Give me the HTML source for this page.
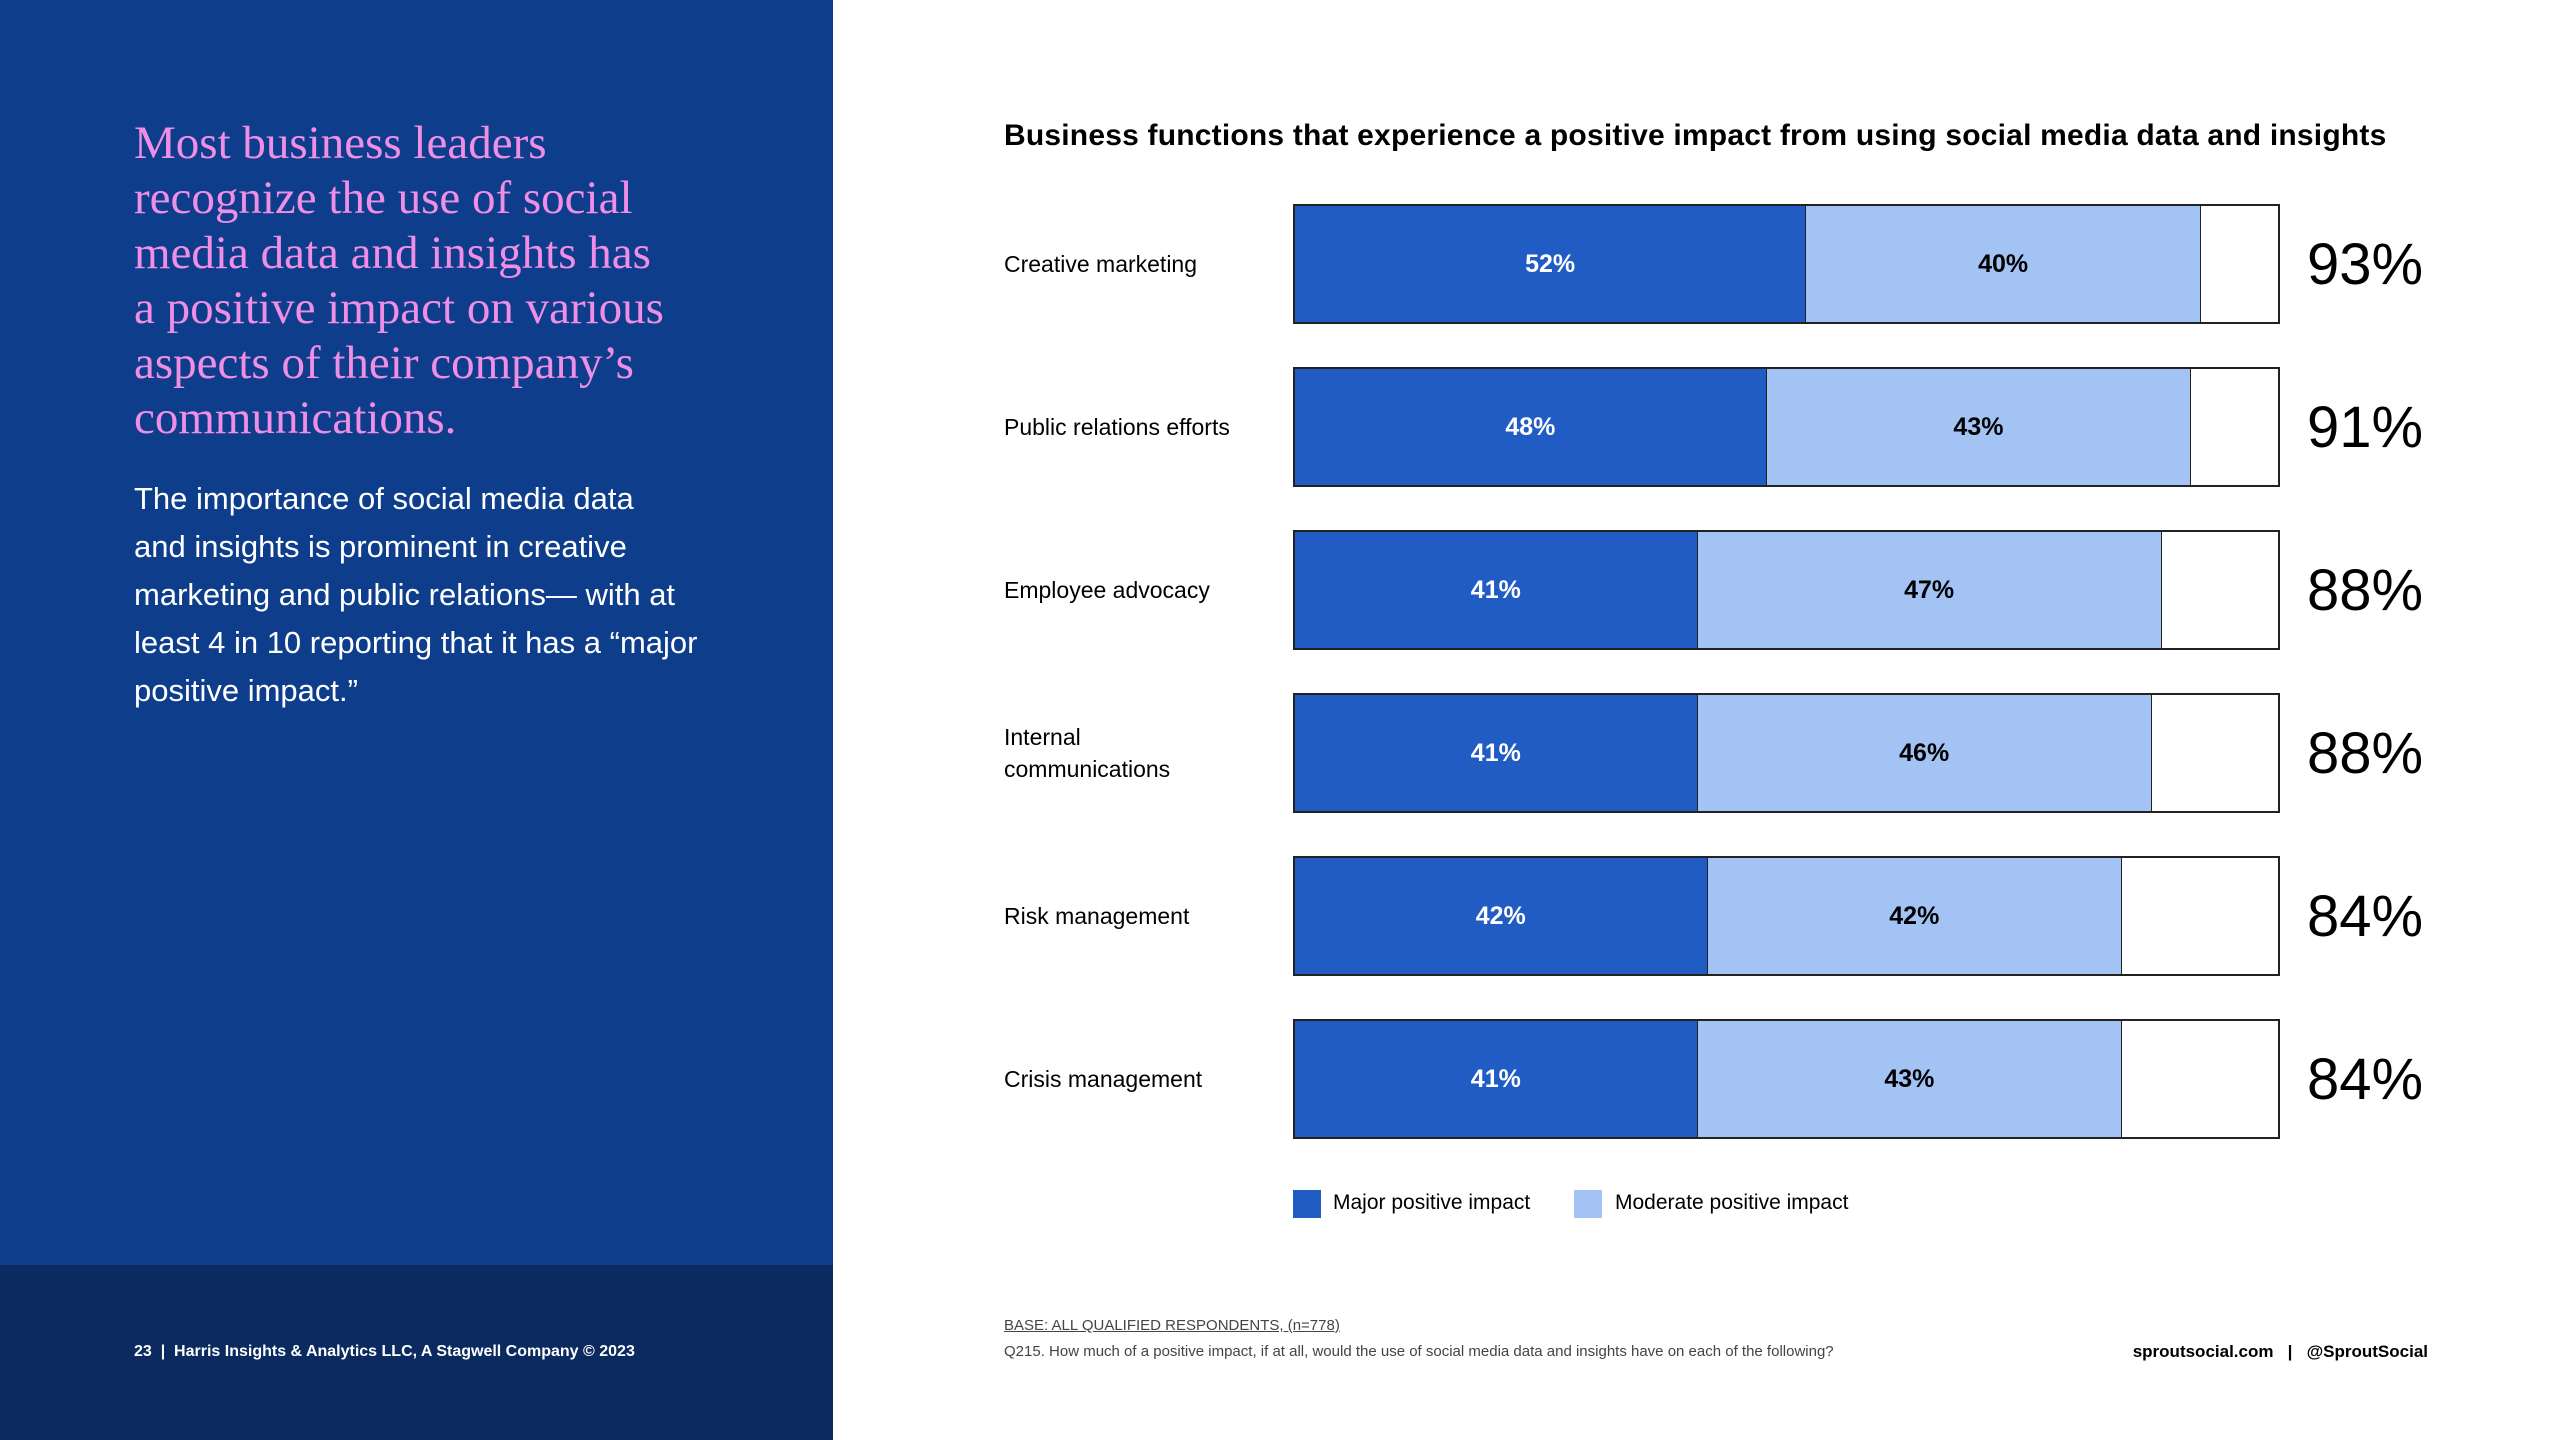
<!DOCTYPE html>
<html><head><meta charset="utf-8"><style>
body{margin:0;width:2560px;height:1440px;position:relative;overflow:hidden;background:#fff;font-family:"Liberation Sans",sans-serif}
.abs{position:absolute}
</style></head><body>
<div class="abs" style="left:0;top:0;width:833px;height:1265px;background:#0e3e8b"></div>
<div class="abs" style="left:0;top:1265px;width:833px;height:175px;background:#0b2a5f"></div>
<div class="abs" style="left:134px;top:116px;width:640px;white-space:nowrap;font-family:'Liberation Serif',serif;font-size:47px;line-height:55px;color:#f08ee6">Most business leaders<br>recognize the use of social<br>media data and insights has<br>a positive impact on various<br>aspects of their company’s<br>communications.</div>
<div class="abs" style="left:134px;top:475px;width:640px;white-space:nowrap;font-size:31px;line-height:48px;color:#fff">The importance of social media data<br>and insights is prominent in creative<br>marketing and public relations— with at<br>least 4 in 10 reporting that it has a “major<br>positive impact.”</div>
<div class="abs" style="left:134px;top:1343px;font-size:16px;font-weight:bold;color:#fff">23 &nbsp;|&nbsp; Harris Insights &amp; Analytics LLC, A Stagwell Company © 2023</div>
<div class="abs" style="left:1004px;top:119px;font-size:30px;font-weight:bold;color:#000;letter-spacing:0.2px">Business functions that experience a positive impact from using social media data and insights</div>
<div id="chart"></div>
<div class="abs" style="left:1293px;top:1190px;width:28px;height:28px;background:#215bc4"></div>
<div class="abs" style="left:1333px;top:1191px;font-size:21px;color:#000">Major positive impact</div>
<div class="abs" style="left:1574px;top:1190px;width:28px;height:28px;background:#a3c3f5"></div>
<div class="abs" style="left:1615px;top:1191px;font-size:21px;color:#000">Moderate positive impact</div>
<div class="abs" style="left:1004px;top:1317px;font-size:15px;color:#444;text-decoration:underline">BASE: ALL QUALIFIED RESPONDENTS, (n=778)</div>
<div class="abs" style="left:1004px;top:1343px;font-size:15px;color:#444">Q215. How much of a positive impact, if at all, would the use of social media data and insights have on each of the following?</div>
<div class="abs" style="right:132px;top:1342px;font-size:17px;font-weight:bold;color:#000">sproutsocial.com &nbsp;&nbsp;|&nbsp;&nbsp; @SproutSocial</div>
<script>
const categories=["Creative marketing","Public relations efforts","Employee advocacy","Internal communications","Risk management","Crisis management"];
const majorValues=[52,48,41,41,42,41];
const moderateValues=[40,43,47,46,42,43];
const totalValues=[93,91,88,88,84,84];
const x0=1293,w100=987,y0=204,pitch=163,bh=120;
const xs=v=>v/100*w100;
const ys=i=>y0+i*pitch;
const c=document.getElementById('chart');
function mk(name,style,txt){const d=document.createElement('div');d.className='abs';d.style.cssText=style;if(txt!==undefined)d.textContent=txt;


c.appendChild(d);return d;}
categories.forEach((cat,i)=>{
const y=ys(i);
const lab=cat==="Internal communications"?"Internal<br>communications":cat;
const l=mk('category-label',`left:1004px;top:${y}px;height:${bh}px;width:260px;display:flex;align-items:center;font-size:23px;line-height:32px;color:#000`);l.innerHTML=lab;
mk('bar-frame',`left:${x0}px;top:${y}px;width:${w100}px;height:${bh}px;box-sizing:border-box;border:2px solid #222;background:#fff`);
const mw=xs(majorValues[i]),dw=xs(moderateValues[i]);
mk('bar-major',`left:${x0}px;top:${y}px;width:${mw}px;height:${bh}px;box-sizing:border-box;border:2px solid #222;border-right:1.5px solid #222;background:#215bc4;color:#fff;font-weight:bold;font-size:25px;display:flex;align-items:center;justify-content:center`,majorValues[i]+'%');
mk('bar-moderate',`left:${x0+mw}px;top:${y}px;width:${dw}px;height:${bh}px;box-sizing:border-box;border-top:2px solid #222;border-bottom:2px solid #222;border-right:1.5px solid #222;background:#a3c3f5;color:#000;font-weight:bold;font-size:25px;display:flex;align-items:center;justify-content:center`,moderateValues[i]+'%');
mk('total-value',`left:2307px;top:${y}px;height:${bh}px;display:flex;align-items:center;font-size:58px;color:#000`,totalValues[i]+'%');
});
</script>
</body></html>
